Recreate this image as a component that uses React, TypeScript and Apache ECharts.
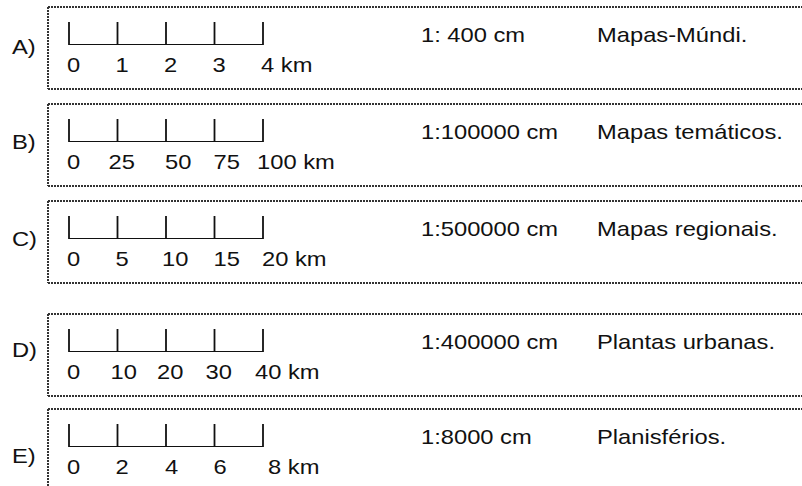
import React, { useEffect, useRef } from "react";
import * as echarts from "echarts";

// ---- content ----
const LABELS = ["A)", "B)", "C)", "D)", "E)"];
const SCALE_MARKS = [
  [0, 1, 2, 3, 4],
  [0, 25, 50, 75, 100],
  [0, 5, 10, 15, 20],
  [0, 10, 20, 30, 40],
  [0, 2, 4, 6, 8],
];
const UNIT = "km";
const RATIOS = ["1: 400 cm", "1:100000 cm", "1:500000 cm", "1:400000 cm", "1:8000 cm"];
const MAP_TYPES = ["Mapas-Múndi.", "Mapas temáticos.", "Mapas regionais.", "Plantas urbanas.", "Planisférios."];

// ---- layout (positions / styles) ----
const W = 802;
const H = 486;
const BOX_TOPS = [7, 104, 201, 314, 409];
const BOX_H = 82;
const BOX_LEFT = 48;
const LABEL_DY = [40, 38, 38, 36, 47];
const TICK_X0 = 69;
const TICK_STEP = 48.5;
const NUM_SHIFT = [
  [-2, -2, -2, -2, -2],
  [-2, -9, -1, -1, -6],
  [-2, -2, -4, -1, -1],
  [-2, -7, -9, -9, -8],
  [-2, -2, -1, -1, 5],
];
const FONT = '"Liberation Sans", Arial, Helvetica, sans-serif';
const FS = 21;
const SX = 1.13;
const INK = "#111";
const DOT = "#333";

function txt(text: string, x: number, y: number) {
  return {
    type: "text",
    x,
    y,
    scaleX: SX,
    silent: true,
    style: {
      text,
      fontSize: FS,
      fontFamily: FONT,
      fill: INK,
      align: "left",
      verticalAlign: "middle",
      textAlign: "left",
      textVerticalAlign: "middle",
    },
  };
}

function dotted(x1: number, y1: number, x2: number, y2: number) {
  return {
    type: "line",
    silent: true,
    shape: { x1, y1, x2, y2 },
    style: { stroke: DOT, lineWidth: 2, lineDash: [2, 1] },
  };
}

function solid(x1: number, y1: number, x2: number, y2: number, w: number) {
  return {
    type: "line",
    silent: true,
    shape: { x1, y1, x2, y2 },
    style: { stroke: INK, lineWidth: w },
  };
}

function buildGraphics() {
  const els: any[] = [];
  LABELS.forEach((lab, i) => {
    const T = BOX_TOPS[i];
    const isLast = i === LABELS.length - 1;
    const bottom = isLast ? H : T + BOX_H;
    els.push(dotted(BOX_LEFT, T, W, T));
    els.push(dotted(BOX_LEFT, T, BOX_LEFT, bottom));
    if (!isLast) els.push(dotted(BOX_LEFT, bottom, W, bottom));

    els.push(txt(lab, 12, T + LABEL_DY[i]));

    const marks = SCALE_MARKS[i];
    const yTop = T + 15;
    const yBase = T + 37.5;
    const xs = marks.map((_, k) => TICK_X0 + k * TICK_STEP);
    els.push(solid(xs[0], yBase, xs[xs.length - 1], yBase, 1));
    xs.forEach((x) => els.push(solid(x, yTop, x, yBase + 0.5, 1.8)));

    marks.forEach((m, k) => {
      const last = k === marks.length - 1;
      const s = last ? `${m} ${UNIT}` : `${m}`;
      els.push(txt(s, xs[k] + NUM_SHIFT[i][k], T + 58));
    });

    els.push(txt(RATIOS[i], 421, T + 27.5));
    els.push(txt(MAP_TYPES[i], 597, T + 27.5));
  });
  return els;
}

export default function App() {
  const ref = useRef<HTMLDivElement>(null);
  useEffect(() => {
    document.body.style.margin = "0";
    const chart = echarts.init(ref.current!, null, { renderer: "svg" });
    chart.setOption({
      animation: false,
      backgroundColor: "#ffffff",
      graphic: { elements: buildGraphics() },
    });
    return () => chart.dispose();
  }, []);
  return <div ref={ref} style={{ width: W, height: H, position: "absolute", left: 0, top: 0 }} />;
}
